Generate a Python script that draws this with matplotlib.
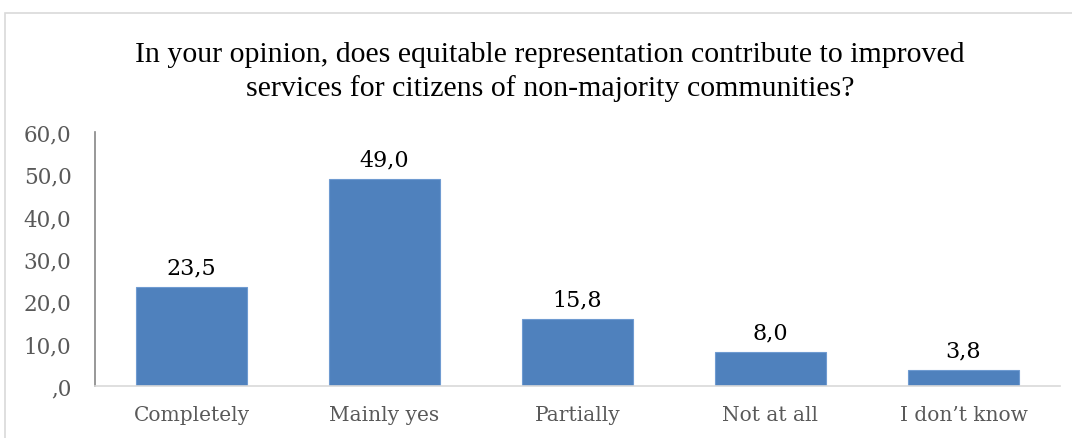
import matplotlib.pyplot as plt
from matplotlib.ticker import FuncFormatter
from matplotlib.patches import Rectangle

categories = ['Completely', 'Mainly yes', 'Partially', 'Not at all', 'I don\u2019t know']
values = [23.5, 49.0, 15.8, 8.0, 3.8]
yticks = [0, 10, 20, 30, 40, 50, 60]
title = ('In your opinion, does equitable representation contribute to improved\n'
         'services for citizens of non-majority communities?')

plt.rcParams['font.family'] = ['DejaVu Serif']


def comma(v):
    s = '%.1f' % v
    s = s.replace('.', ',')
    if s.startswith('0,'):
        s = s[1:]
    return s


fig = plt.figure(figsize=(10.72, 4.39), dpi=100)
fig.patches.append(Rectangle((5 / 1072, -0.1), 1.2, 1 - 14 / 439 + 0.1,
                             transform=fig.transFigure, fill=False,
                             edgecolor='#d9d9d9', linewidth=1.2))
ax = fig.add_axes([95 / 1072, 1 - 387 / 439, 965 / 1072, 254 / 439])

x = range(len(categories))
bars = ax.bar(x, values, width=0.57, color='#4F81BD', edgecolor='#6f9bd1', linewidth=0.8)
for xi, v in zip(x, values):
    ax.text(xi, v + 2.0, comma(v), ha='center', va='bottom', fontsize=16, color='black')

ax.set_xlim(-0.5, len(categories) - 0.5)
ax.set_ylim(0, 60)
ax.set_yticks(yticks)
ax.yaxis.set_major_formatter(FuncFormatter(lambda v, p: comma(v)))
ax.set_xticks(list(x))
ax.set_xticklabels(categories)
ax.tick_params(axis='both', length=0, labelcolor='#595959')
ax.tick_params(axis='x', pad=14, labelsize=14.5)
ax.tick_params(axis='y', pad=17, labelsize=15.5)

for s in ['top', 'right']:
    ax.spines[s].set_visible(False)
ax.spines['left'].set_color('#868686')
ax.spines['bottom'].set_color('#d9d9d9')
ax.spines['left'].set_linewidth(1.2)
ax.spines['bottom'].set_linewidth(1.2)

fig.text(550 / 1072, 1 - 72 / 439, title, ha='center', va='center',
         fontsize=21.5, linespacing=1.35, family='Liberation Serif')

fig.savefig('out.png', dpi=100)
